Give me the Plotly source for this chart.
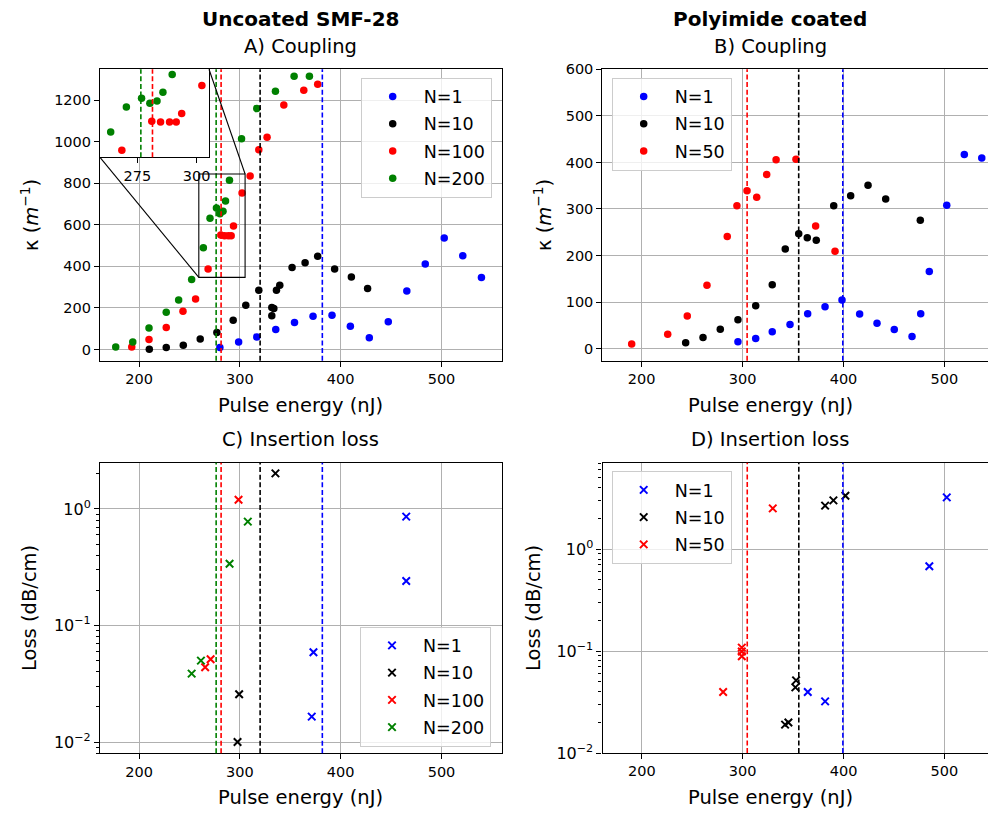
import plotly.graph_objects as go

# The page body has an 8px margin, so the figure is drawn 8px in from the
# top-left; positions below are given in screenshot pixels and shifted.
OFF = 8
W, H = 996 - OFF, 814 - OFF

# ---------------- data ----------------
# Panel A: Uncoated SMF-28 coupling (pulse energy nJ, kappa m^-1)
a_n1_x = [280.2, 298.8, 316.8, 335.6, 354.2, 372.6, 391.4, 409.6, 428.4, 447.2, 465.6, 483.9, 502.7, 521.1, 539.6]
a_n1_y = [9.6, 36.6, 60.7, 96, 130, 160, 165, 112, 56, 133, 282, 412, 537, 451, 347]
a_n10_x = [210.2, 227.0, 243.9, 260.7, 277.2, 293.4, 305.9, 318.8, 331.7, 333.7, 331.7, 336.3, 339.6, 351.8, 364.7, 377.2, 394.0, 410.6, 426.7]
a_n10_y = [1.4, 9.6, 20.7, 51, 82, 141, 213, 285.5, 202, 197, 162, 285.5, 309.5, 395, 417, 449, 388, 349.5, 293.6]
a_n100_x = [192.8, 209.9, 227.0, 243.6, 256.1, 268.5, 281.1, 284.8, 288.6, 291.4, 293.7, 302.2, 310.2, 318.8, 327.0, 343.6, 363.4, 377.2]
a_n100_y = [12.5, 48, 106, 184, 243.6, 387, 551, 547, 547, 547, 595, 754, 835, 962, 1022, 1177, 1248, 1277]
a_n200_x = [176.9, 193.8, 209.9, 227.0, 239.3, 252.2, 263.8, 270.4, 276.8, 280.3, 283.3, 285.8, 289.7, 301.7, 316.8, 335.3, 353.8, 369.0]
a_n200_y = [12.5, 36.6, 104, 179.5, 238.7, 337, 490, 632, 681, 653, 666, 715, 815, 1015, 1160, 1243, 1315, 1315]

# Panel B: Polyimide coated coupling
b_n1_x = [295.4, 313.0, 329.4, 347.0, 364.5, 381.7, 398.5, 416.0, 433.2, 450.3, 467.9, 476.5, 485.0, 502.3, 519.7, 537.0, 551.5]
b_n1_y = [15, 22, 36.5, 52, 75, 90, 104.6, 74.5, 54.5, 41, 26, 75, 166, 308, 417, 409.5, 533]
b_n10_x = [243.6, 260.8, 277.9, 295.4, 313.0, 329.4, 342.3, 355.6, 364.1, 373.0, 390.3, 407.1, 424.3, 441.8, 476.1]
b_n10_y = [13, 24, 41.5, 62, 92, 137.5, 214, 247, 238, 233, 307, 328.5, 351, 321.5, 275.7]
b_n50_x = [190.1, 225.8, 245.2, 264.7, 284.8, 294.4, 304.4, 314.0, 323.9, 333.2, 352.9, 372.4, 391.6]
b_n50_y = [10, 31, 70, 136, 241, 307, 339, 325, 374, 406, 407, 263.5, 209]

# Panel C: Uncoated insertion loss (dB/cm)
c_n1_x = [465.0, 465.0, 373.0, 371.3]
c_n1_y = [0.859, 0.241, 0.0589, 0.0165]
c_n10_x = [335.3, 299.3, 297.7]
c_n10_y = [2.02, 0.0257, 0.0100]
c_n100_x = [298.7, 271.0, 265.6]
c_n100_y = [1.2, 0.0513, 0.0438]
c_n200_x = [307.9, 289.8, 261.4, 252.2]
c_n200_y = [0.778, 0.339, 0.0499, 0.0386]

# Panel D: Polyimide insertion loss
d_n1_x = [502.3, 485.0, 364.5, 381.7]
d_n1_y = [3.22, 0.68, 0.0397, 0.0321]
d_n10_x = [401.8, 389.9, 381.7, 352.9, 352.2, 342.0, 345.3]
d_n10_y = [3.34, 3.01, 2.67, 0.0516, 0.0440, 0.0190, 0.0199]
d_n50_x = [329.8, 299.1, 299.1, 299.1, 280.6]
d_n50_y = [2.51, 0.108, 0.099, 0.089, 0.0397]

# threshold energies (dashed vertical lines)
left_thresholds = [("green", 276.5), ("red", 281.4), ("black", 320.1), ("blue", 381.8)]
right_thresholds = [("red", 304.5), ("black", 355.6), ("blue", 399.3)]

# axis ticks
a_yticks = [0, 200, 400, 600, 800, 1000, 1200]
b_yticks = [0, 100, 200, 300, 400, 500, 600]
x_ticks = [200, 300, 400, 500]
inset_xticks = [275, 300]

# ---------------- layout geometry (screenshot pixels) ----------------
def px(p):
    return (p - OFF) / W

def py(p):
    return 1 - (p - OFF) / H

def dom_x(p0, p1):
    return [px(p0), min(px(p1), 1.0)]

def dom_y(p_top, p_bot):
    return [py(p_bot), py(p_top)]

XR_L = [161.3, 559.5]
XR_R = [161.0, 551.1]
A_YR = [-54, 1349]
B_YR = [-25.8, 600]
C_YR = [-2.097, 0.397]
D_YR = [-2.0, 0.848]
INSET_XR = [259.3, 305.2]
INSET_YR = [347, 845]

domA = (dom_x(100, 501.5), dom_y(69.3, 360.7))
domB = (dom_x(602.3, 996), dom_y(69.3, 360.7))
domC = (dom_x(100, 501.5), dom_y(462.7, 753.3))
domD = (dom_x(602.5, 996), dom_y(462.7, 753.0))
domI = (dom_x(100, 209), dom_y(69.3, 157.3))

FONT = "DejaVu Sans"
TICKF = dict(family=FONT, size=14.5, color="black")
LOGTICKF = dict(family=FONT, size=16, color="black")
GRID = "#b0b0b0"

def base_axis(**kw):
    d = dict(showline=True, linecolor="black", linewidth=1.1, mirror=True,
             ticks="outside", ticklen=5, tickwidth=1.1, tickcolor="black",
             showgrid=True, gridcolor=GRID, gridwidth=1.4, zeroline=False,
             tickfont=TICKF, automargin=False, fixedrange=True)
    d.update(kw)
    return d

fig = go.Figure()

def sc(x, y, color, name, xa, ya, legend, symbol="circle", showlegend=True):
    if symbol == "circle":
        marker = dict(color=color, size=7.5, symbol="circle", line=dict(width=0))
    else:
        marker = dict(color=color, size=7.5, symbol="x-thin", line=dict(width=2, color=color))
    fig.add_trace(go.Scatter(x=x, y=y, mode="markers", name=name, marker=marker,
                             xaxis=xa, yaxis=ya, legend=legend, showlegend=showlegend,
                             legendgroup=f"{legend}_{name}_{xa}",
                             cliponaxis=True))

# Panel A
sc(a_n1_x, a_n1_y, "blue", "N=1", "x", "y", "legend")
sc(a_n10_x, a_n10_y, "black", "N=10", "x", "y", "legend")
sc(a_n100_x, a_n100_y, "red", "N=100", "x", "y", "legend")
sc(a_n200_x, a_n200_y, "green", "N=200", "x", "y", "legend")
# Panel B
sc(b_n1_x, b_n1_y, "blue", "N=1", "x2", "y2", "legend2")
sc(b_n10_x, b_n10_y, "black", "N=10", "x2", "y2", "legend2")
sc(b_n50_x, b_n50_y, "red", "N=50", "x2", "y2", "legend2")
# Panel C
sc(c_n1_x, c_n1_y, "blue", "N=1", "x3", "y3", "legend3", symbol="x")
sc(c_n10_x, c_n10_y, "black", "N=10", "x3", "y3", "legend3", symbol="x")
sc(c_n100_x, c_n100_y, "red", "N=100", "x3", "y3", "legend3", symbol="x")
sc(c_n200_x, c_n200_y, "green", "N=200", "x3", "y3", "legend3", symbol="x")
# Panel D
sc(d_n1_x, d_n1_y, "blue", "N=1", "x4", "y4", "legend4", symbol="x")
sc(d_n10_x, d_n10_y, "black", "N=10", "x4", "y4", "legend4", symbol="x")
sc(d_n50_x, d_n50_y, "red", "N=50", "x4", "y4", "legend4", symbol="x")
# Inset (zoom of panel A)
sc(a_n100_x, a_n100_y, "red", "N=100", "x5", "y5", "legend", showlegend=False)
sc(a_n200_x, a_n200_y, "green", "N=200", "x5", "y5", "legend", showlegend=False)

def log_minor(lo, hi):
    vals = []
    for e in range(lo, hi + 1):
        for m in range(2, 10):
            vals.append(m * 10 ** e)
    return vals

sup = {0: "10<sup>0</sup>", -1: "10<sup>\u22121</sup>", -2: "10<sup>\u22122</sup>"}

fig.update_layout(
    width=W, height=H, autosize=False,
    margin=dict(l=0, r=0, t=0, b=0),
    paper_bgcolor="white", plot_bgcolor="white",
    font=dict(family=FONT, color="black"),
    xaxis=base_axis(domain=domA[0], range=XR_L, anchor="y", tickvals=x_ticks),
    yaxis=base_axis(domain=domA[1], range=A_YR, anchor="x", tickvals=a_yticks),
    xaxis2=base_axis(domain=domB[0], range=XR_R, anchor="y2", tickvals=x_ticks),
    yaxis2=base_axis(domain=domB[1], range=B_YR, anchor="x2", tickvals=b_yticks, mirror=False),
    xaxis3=base_axis(domain=domC[0], range=XR_L, anchor="y3", tickvals=x_ticks),
    yaxis3=base_axis(domain=domC[1], range=C_YR, anchor="x3", type="log", tickfont=LOGTICKF,
                     tickvals=[0.01, 0.1, 1], ticktext=[sup[-2], sup[-1], sup[0]],
                     minor=dict(tickvals=log_minor(-3, 0), ticks="outside", ticklen=3,
                                tickcolor="black", tickwidth=1, showgrid=False)),
    xaxis4=base_axis(domain=domD[0], range=XR_R, anchor="y4", tickvals=x_ticks),
    yaxis4=base_axis(domain=domD[1], range=D_YR, anchor="x4", type="log", mirror=False,
                     tickfont=LOGTICKF,
                     tickvals=[0.01, 0.1, 1], ticktext=[sup[-2], sup[-1], sup[0]],
                     minor=dict(tickvals=log_minor(-2, 0), ticks="outside", ticklen=3,
                                tickcolor="black", tickwidth=1, showgrid=False)),
    xaxis5=base_axis(domain=domI[0], range=INSET_XR, anchor="y5", tickvals=inset_xticks,
                     showgrid=False),
    yaxis5=base_axis(domain=domI[1], range=INSET_YR, anchor="x5", showgrid=False,
                     ticks="", showticklabels=False),
)

LEG = dict(bgcolor="rgba(255,255,255,0.8)", bordercolor="#cccccc", borderwidth=1,
           font=dict(family=FONT, size=17.5, color="black"), xanchor="left", yanchor="top",
           itemsizing="trace", itemwidth=52, tracegroupgap=1.5)
fig.update_layout(
    legend=dict(LEG, x=px(360.7), y=py(77.5)),
    legend2=dict(LEG, x=px(611.7), y=py(77.5)),
    legend3=dict(LEG, x=px(360), y=py(626.5)),
    legend4=dict(LEG, x=px(611.7), y=py(471)),
)

# dashed threshold lines
def vline(x, color, xref, yref):
    fig.add_shape(type="line", x0=x, x1=x, y0=0, y1=1, xref=xref, yref=yref + " domain",
                  line=dict(color=color, width=1.6, dash="5px,2.6px"))

for color, xv in left_thresholds:
    vline(xv, color, "x", "y")
    vline(xv, color, "x3", "y3")
for color, xv in right_thresholds:
    vline(xv, color, "x2", "y2")
    vline(xv, color, "x4", "y4")
for color, xv in left_thresholds:
    if INSET_XR[0] <= xv <= INSET_XR[1]:
        vline(xv, color, "x5", "y5")

# inset indicator rectangle + connectors
fig.add_shape(type="rect", xref="x", yref="y", x0=INSET_XR[0], x1=INSET_XR[1],
              y0=INSET_YR[0], y1=INSET_YR[1], line=dict(color="black", width=1.1),
              fillcolor="rgba(0,0,0,0)")

def data_to_paper(v, rng, dom):
    return dom[0] + (v - rng[0]) / (rng[1] - rng[0]) * (dom[1] - dom[0])

rx0 = data_to_paper(INSET_XR[0], XR_L, domA[0])
rx1 = data_to_paper(INSET_XR[1], XR_L, domA[0])
ry0 = data_to_paper(INSET_YR[0], A_YR, domA[1])
ry1 = data_to_paper(INSET_YR[1], A_YR, domA[1])
fig.add_shape(type="line", xref="paper", yref="paper", x0=domI[0][0], y0=domI[1][0],
              x1=rx0, y1=ry0, line=dict(color="black", width=1.1))
fig.add_shape(type="line", xref="paper", yref="paper", x0=domI[0][1], y0=domI[1][1],
              x1=rx1, y1=ry1, line=dict(color="black", width=1.1))

# text
def txt(s, x_px, y_px, size, bold=False, angle=0):
    fig.add_annotation(text=f"<b>{s}</b>" if bold else s, x=px(x_px), y=py(y_px),
                       xref="paper", yref="paper", showarrow=False, textangle=angle,
                       xanchor="center", yanchor="middle",
                       font=dict(family=FONT, size=size, color="black"))

txt("Uncoated SMF-28", 300.8, 19, 20, bold=True)
txt("Polyimide coated", 770, 19, 20, bold=True)
txt("A) Coupling", 300.8, 47, 19.5)
txt("B) Coupling", 770, 47, 19.5)
txt("C) Insertion loss", 300.8, 440, 19.5)
txt("D) Insertion loss", 770, 440, 19.5)
txt("Pulse energy (nJ)", 300.8, 405, 19.5)
txt("Pulse energy (nJ)", 770, 405, 19.5)
txt("Pulse energy (nJ)", 300.8, 797, 19.5)
txt("Pulse energy (nJ)", 770, 797, 19.5)
txt("\u03ba (<i>m</i><sup>\u22121</sup>)", 30, 215, 19.5, angle=-90)
txt("\u03ba (<i>m</i><sup>\u22121</sup>)", 543, 215, 19.5, angle=-90)
txt("Loss (dB/cm)", 29, 608, 19.5, angle=-90)
txt("Loss (dB/cm)", 533, 608, 19.5, angle=-90)

fig.write_html("out.html")
